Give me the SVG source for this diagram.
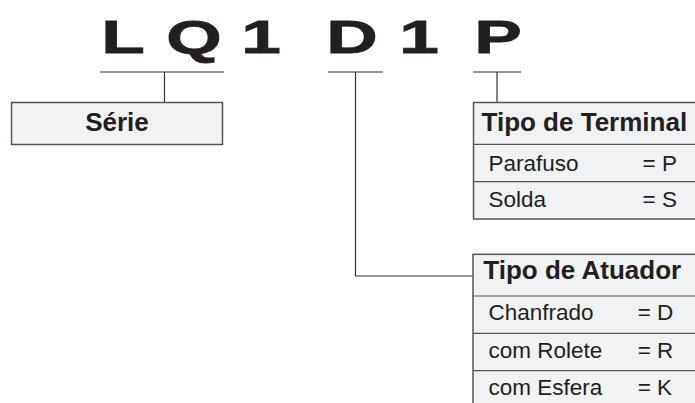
<svg xmlns="http://www.w3.org/2000/svg" width="695" height="403" viewBox="0 0 695 403">
<style>
.big{font-family:"Liberation Sans",Arial,sans-serif;font-weight:bold;font-size:46px;fill:#231f20;stroke:#231f20;stroke-width:0.8;text-anchor:middle}
.hd{font-family:"Liberation Sans",Arial,sans-serif;font-weight:bold;font-size:26px;fill:#231f20}
.rw{font-family:"Liberation Sans",Arial,sans-serif;font-size:22.5px;fill:#231f20}
.box{fill:#f1f2f3;stroke:#555;stroke-width:1.5}
.div{stroke:#555;stroke-width:1.2;fill:none}
.ln{stroke:#333;stroke-width:1.2;fill:none}
</style>
<g id="code">
<text class="big" transform="translate(123,53) scale(1.55,1)">L</text>
<text class="big" transform="translate(194,53) scale(1.55,1)">Q</text>
<text class="big" transform="translate(261,53) scale(1.55,1)">1</text>
<text class="big" transform="translate(352,53) scale(1.55,1)">D</text>
<text class="big" transform="translate(419,53) scale(1.55,1)">1</text>
<text class="big" transform="translate(498,53) scale(1.55,1)">P</text>
</g>
<g id="connectors">
<path class="ln" d="M100,72H224M164.5,72V102.5"/>
<path class="ln" d="M328,72H383M355.5,72V276H473"/>
<path class="ln" d="M473,72H521M497,72V102.5"/>
</g>
<g id="serie">
<rect class="box" x="11.5" y="102.5" width="211" height="42"/>
<text class="hd" x="117" y="130.7" text-anchor="middle">Série</text>
</g>
<g id="terminal">
<rect class="box" x="473.5" y="102.5" width="230" height="116.5"/>
<path class="div" d="M473.5,144.3H703M473.5,181.7H703"/>
<text class="hd" x="481.5" y="130.7">Tipo de Terminal</text>
<text class="rw" x="488.5" y="170.7">Parafuso</text>
<text class="rw" x="642.5" y="170.7">= P</text>
<text class="rw" x="488.5" y="206.7">Solda</text>
<text class="rw" x="642.5" y="206.7">= S</text>
</g>
<g id="atuador">
<rect class="box" x="473" y="254.3" width="230" height="160"/>
<path class="div" d="M473,296H703M473,333.3H703M473,370.7H703"/>
<text class="hd" x="483.3" y="279.3">Tipo de Atuador</text>
<text class="rw" x="488.5" y="320">Chanfrado</text>
<text class="rw" x="637.7" y="320">= D</text>
<text class="rw" x="488.5" y="358.3">com Rolete</text>
<text class="rw" x="637.7" y="358.3">= R</text>
<text class="rw" x="488.5" y="395">com Esfera</text>
<text class="rw" x="637.7" y="395">= K</text>
</g>
</svg>
